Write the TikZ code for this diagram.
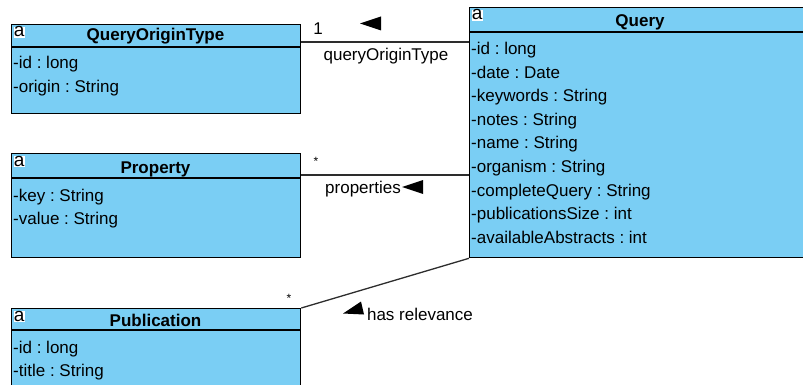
\documentclass[tikz,border=0pt]{standalone}
\usepackage{fontspec}
\setmainfont{Liberation Sans}
\usetikzlibrary{calc}
\definecolor{classfill}{RGB}{122,206,244}
\definecolor{edgecol}{RGB}{45,45,45}
\frenchspacing
\begin{document}
\begin{tikzpicture}[x=1pt,y=-1pt,
  classbox/.style={draw=black, line width=1.3pt, fill=classfill, rectangle, inner sep=0pt, anchor=north west},
  divider/.style={draw=black, line width=1.3pt},
  classtitle/.style={font=\fontsize{17}{19}\selectfont\bfseries, inner sep=0pt, anchor=base},
  attr/.style={font=\fontsize{17}{19}\selectfont, inner sep=0pt, anchor=base west},
  lbl/.style={font=\fontsize{17}{19}\selectfont, inner sep=0pt, anchor=base},
  mult/.style={font=\fontsize{12}{14}\selectfont, inner sep=0pt, anchor=base},
  assoc/.style={draw=edgecol, line width=1.3pt},
  navtip/.style={fill=black},
  icon/.style={fill=white, font=\fontsize{19}{19}\selectfont, inner xsep=0.2pt, inner ysep=0.8pt, text height=9.5pt, text depth=0pt, anchor=north west}]
\useasboundingbox (0,0) rectangle (803,385);
\clip (0,0) rectangle (803,385);

% ---------- class QueryOriginType ----------
\node[classbox, minimum width=289pt, minimum height=89pt] (qot) at (11,24) {};
\draw[divider] ([yshift=-23pt]qot.north west) -- ([yshift=-23pt]qot.north east);
\node[icon] (qot-icon) at ([xshift=2.5pt,yshift=-2.5pt]qot.north west) {a};
\node[classtitle] (qot-title) at (155.5,40.5) {QueryOriginType};
\node[attr] (qot-a1) at (13,68.5) {-id : long};
\node[attr] (qot-a2) at (13,92.5) {-origin : String};

% ---------- class Query ----------
\node[classbox, minimum width=342pt, minimum height=250pt] (query) at (469,7) {};
\draw[divider] ([yshift=-25pt]query.north west) -- ([yshift=-25pt]query.north east);
\node[icon] (query-icon) at ([xshift=2.5pt,yshift=-2.5pt]query.north west) {a};
\node[classtitle] (query-title) at (640,27) {Query};
\node[attr] (query-a1) at (471,55) {-id : long};
\node[attr] (query-a2) at (471,78.5) {-date : Date};
\node[attr] (query-a3) at (471,102) {-keywords : String};
\node[attr] (query-a4) at (471,125.5) {-notes : String};
\node[attr] (query-a5) at (471,149) {-name : String};
\node[attr] (query-a6) at (471,172.5) {-organism : String};
\node[attr] (query-a7) at (471,196) {-completeQuery : String};
\node[attr] (query-a8) at (471,219.5) {-publicationsSize : int};
\node[attr] (query-a9) at (471,243) {-availableAbstracts : int};

% ---------- class Property ----------
\node[classbox, minimum width=289pt, minimum height=104pt] (prop) at (11,153) {};
\draw[divider] ([yshift=-25pt]prop.north west) -- ([yshift=-25pt]prop.north east);
\node[icon] (prop-icon) at ([xshift=2.5pt,yshift=-2.5pt]prop.north west) {a};
\node[classtitle] (prop-title) at (155.5,173.5) {Property};
\node[attr] (prop-a1) at (13,201) {-key : String};
\node[attr] (prop-a2) at (13,224.5) {-value : String};

% ---------- class Publication ----------
\node[classbox, minimum width=289pt, minimum height=100pt] (pub) at (11,308) {};
\draw[divider] ([yshift=-22pt]pub.north west) -- ([yshift=-22pt]pub.north east);
\node[icon] (pub-icon) at ([xshift=2.5pt,yshift=-2.5pt]pub.north west) {a};
\node[classtitle] (pub-title) at (155.5,326) {Publication};
\node[attr] (pub-a1) at (13,353.5) {-id : long};
\node[attr] (pub-a2) at (13,376.5) {-title : String};

% ---------- associations ----------
\draw[assoc] ([yshift=-18pt]qot.north east) -- ([yshift=-35pt]query.north west);
\node[lbl] (qot-mult) at (318,35) {1};
\node[lbl] (qot-role) at (386,61) {queryOriginType};
\fill[navtip] (360,23.5) -- (381,16.5) -- (381,30.5) -- cycle;

\draw[assoc] ([yshift=-22pt]prop.north east) -- ([yshift=-168pt]query.north west);
\node[mult] (prop-mult) at (316,165) {*};
\node[lbl] (prop-role) at (363,193) {properties};
\fill[navtip] (402,187) -- (423,180) -- (423,194) -- cycle;

\draw[assoc] (pub.north east) -- (query.south west);
\node[mult] (pub-mult) at (289,302) {*};
\node[lbl] (pub-role) at (420,320) {has relevance};
\fill[navtip] (343,313.5) -- (361,301.5) -- (364,314.5) -- cycle;
\end{tikzpicture}
\end{document}
